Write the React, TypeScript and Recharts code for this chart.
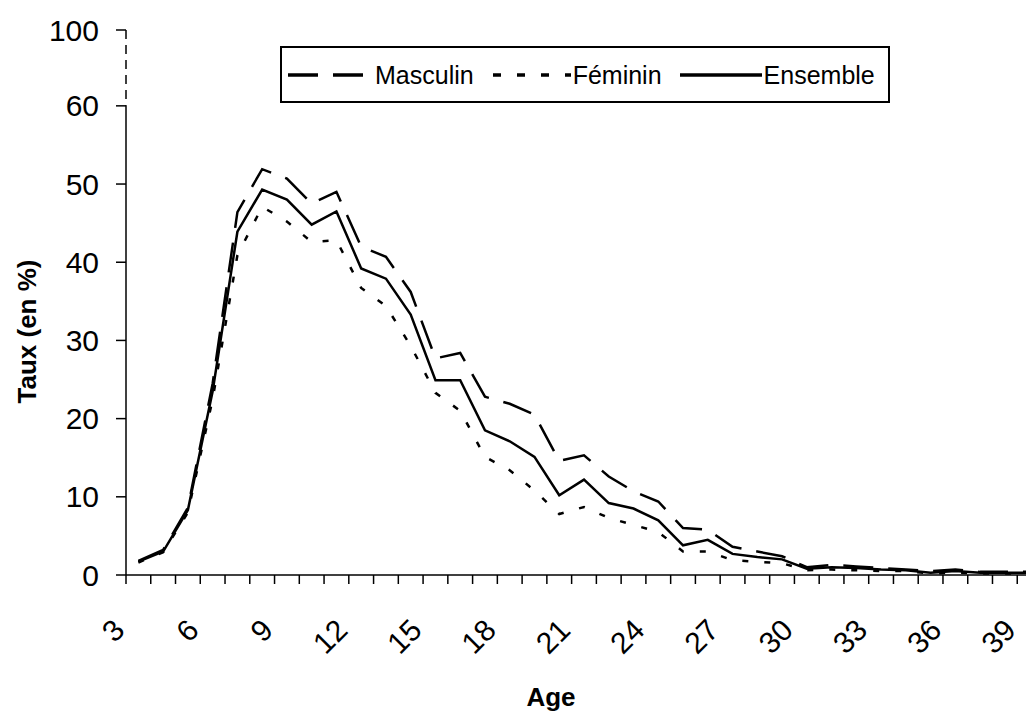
import { LineChart, Line, XAxis, YAxis, ReferenceLine, Legend } from 'recharts';

// ages 3 to 39, one point per year
const ages = [3, 4, 5, 6, 7, 8, 9, 10, 11, 12, 13, 14, 15, 16, 17, 18, 19, 20, 21, 22, 23, 24, 25, 26, 27, 28, 29, 30, 31, 32, 33, 34, 35, 36, 37, 38, 39];

const masculin = [1.8, 3.2, 8.6, 24.5, 46.4, 51.9, 50.7, 47.5, 49.0, 42.0, 40.7, 36.2, 27.7, 28.4, 22.8, 21.9, 20.5, 14.6, 15.3, 12.6, 10.7, 9.4, 6.0, 5.8, 3.6, 3.0, 2.4, 1.0, 1.3, 1.1, 0.9, 0.7, 0.5, 0.7, 0.4, 0.4, 0.4];
const feminin = [1.6, 2.9, 8.0, 22.5, 40.9, 47.1, 45.2, 42.6, 42.8, 36.7, 34.4, 29.3, 23.3, 21.0, 15.1, 13.4, 10.8, 7.8, 8.7, 7.3, 6.4, 5.5, 3.0, 3.0, 1.9, 1.7, 1.5, 0.6, 0.7, 0.6, 0.5, 0.5, 0.2, 0.3, 0.2, 0.2, 0.2];
const ensemble = [1.7, 3.0, 8.3, 23.5, 43.9, 49.3, 48.0, 44.8, 46.5, 39.2, 37.9, 33.3, 24.9, 24.9, 18.5, 17.1, 15.1, 10.2, 12.2, 9.2, 8.5, 7.0, 3.8, 4.5, 2.7, 2.3, 2.0, 0.8, 1.0, 0.9, 0.7, 0.6, 0.3, 0.5, 0.3, 0.3, 0.3];

const xLabels = [3, 6, 9, 12, 15, 18, 21, 24, 27, 30, 33, 36, 39];
const yTicks = [0, 10, 20, 30, 40, 50, 60];
// the axis is broken above 60: "100" sits roughly where 70 would be
const BREAK = 69.7;
const breakLabel = '100';

const FONT = '"Liberation Sans", Arial, sans-serif';
const X_TICK = 9;

const data = ages.map((age, i) => ({
  age,
  Masculin: masculin[i],
  Feminin: feminin[i],
  Ensemble: ensemble[i],
}));

// tick marks sit between the years, labels on every third year
const boundaries = ages.map((a) => a - 0.5).concat(ages[ages.length - 1] + 0.5);
const xTicks = [...boundaries, ...xLabels].sort((a, b) => a - b);

function AgeTick({ x, y, payload }: any) {
  const v = payload.value;
  const axisY = y - X_TICK;
  if (!Number.isInteger(v)) {
    return <line x1={x} x2={x} y1={axisY} y2={axisY + X_TICK} stroke="#000" strokeWidth={1.5} />;
  }
  const ax = x - 12;
  const ay = axisY + 57;
  return (
    <text x={ax} y={ay} transform={`rotate(-45, ${ax}, ${ay})`} textAnchor="end" fontSize={30} fontFamily={FONT} fill="#000">
      {v}
    </text>
  );
}

function AgeTitle({ viewBox }: any) {
  const x = viewBox.x + viewBox.width / 2 - 33;
  const y = viewBox.y + viewBox.height - 8;
  return (
    <text x={x} y={y} textAnchor="middle" fontSize={26} fontWeight="bold" fontFamily={FONT} fill="#000">
      Age
    </text>
  );
}

function TauxTitle({ viewBox }: any) {
  const x = viewBox.x + 19;
  const y = viewBox.y + viewBox.height / 2 + 29;
  return (
    <text x={x} y={y} transform={`rotate(-90, ${x}, ${y})`} textAnchor="middle" dominantBaseline="central" fontSize={26} fontWeight="bold" fontFamily={FONT} fill="#000">
      Taux (en %)
    </text>
  );
}

function LegendBox() {
  const txt = { fontSize: 25, fontFamily: FONT, color: '#000', lineHeight: '28px' };
  return (
    <div style={{ display: 'flex', alignItems: 'center', boxSizing: 'border-box', width: 610, height: 57, border: '2px solid #000', paddingLeft: 6, background: '#fff' }}>
      <svg width={76} height={10}>
        <line x1={0} x2={76} y1={5} y2={5} stroke="#000" strokeWidth={3.5} strokeDasharray="30 15" />
      </svg>
      <span style={{ ...txt, marginLeft: 11 }}>Masculin</span>
      <svg width={78} height={10} style={{ marginLeft: 19 }}>
        <line x1={0} x2={78} y1={5} y2={5} stroke="#000" strokeWidth={3.5} strokeDasharray="8 16" />
      </svg>
      <span style={{ ...txt, marginLeft: 2 }}>Féminin</span>
      <svg width={82} height={10} style={{ marginLeft: 18 }}>
        <line x1={0} x2={82} y1={5} y2={5} stroke="#000" strokeWidth={3.5} />
      </svg>
      <span style={{ ...txt, marginLeft: 2 }}>Ensemble</span>
    </div>
  );
}

export default function App() {
  return (
    <div style={{ width: 1026, height: 708, overflow: 'hidden', background: '#fff' }}>
      <LineChart width={1040} height={708} data={data} margin={{ top: 22, right: 6, bottom: 2, left: 0 }}>
        <XAxis
          dataKey="age"
          type="number"
          domain={[2.5, 39.5]}
          ticks={xTicks}
          interval={0}
          tickSize={X_TICK}
          tickMargin={0}
          tickLine={false}
          tick={<AgeTick />}
          axisLine={{ stroke: '#000', strokeWidth: 1.5 }}
          height={139}
          label={<AgeTitle />}
        />
        <YAxis
          type="number"
          domain={[0, BREAK]}
          ticks={[...yTicks, BREAK]}
          interval={0}
          width={118}
          tickSize={10}
          tickMargin={17}
          axisLine={false}
          tickLine={{ stroke: '#000', strokeWidth: 1.5 }}
          tick={{ fontSize: 30, fontFamily: FONT, fill: '#000' }}
          tickFormatter={(v: number) => (v === BREAK ? breakLabel : String(v))}
          label={<TauxTitle />}
        />
        <ReferenceLine segment={[{ x: 2.5, y: 0 }, { x: 2.5, y: 60 }]} stroke="#000" strokeWidth={1.5} />
        <ReferenceLine segment={[{ x: 2.5, y: BREAK }, { x: 2.5, y: 60 }]} stroke="#000" strokeWidth={1.5} strokeDasharray="9 6" />
        <Legend
          verticalAlign="middle"
          layout="horizontal"
          content={<LegendBox />}
          wrapperStyle={{ top: 38, left: 272, width: 'auto', height: 'auto' }}
        />
        <Line type="linear" dataKey="Masculin" stroke="#000" strokeWidth={2.5} strokeDasharray="30 15" dot={false} isAnimationActive={false} />
        <Line type="linear" dataKey="Feminin" stroke="#000" strokeWidth={2.5} strokeDasharray="6 16" dot={false} isAnimationActive={false} />
        <Line type="linear" dataKey="Ensemble" stroke="#000" strokeWidth={2.5} dot={false} isAnimationActive={false} />
      </LineChart>
    </div>
  );
}
